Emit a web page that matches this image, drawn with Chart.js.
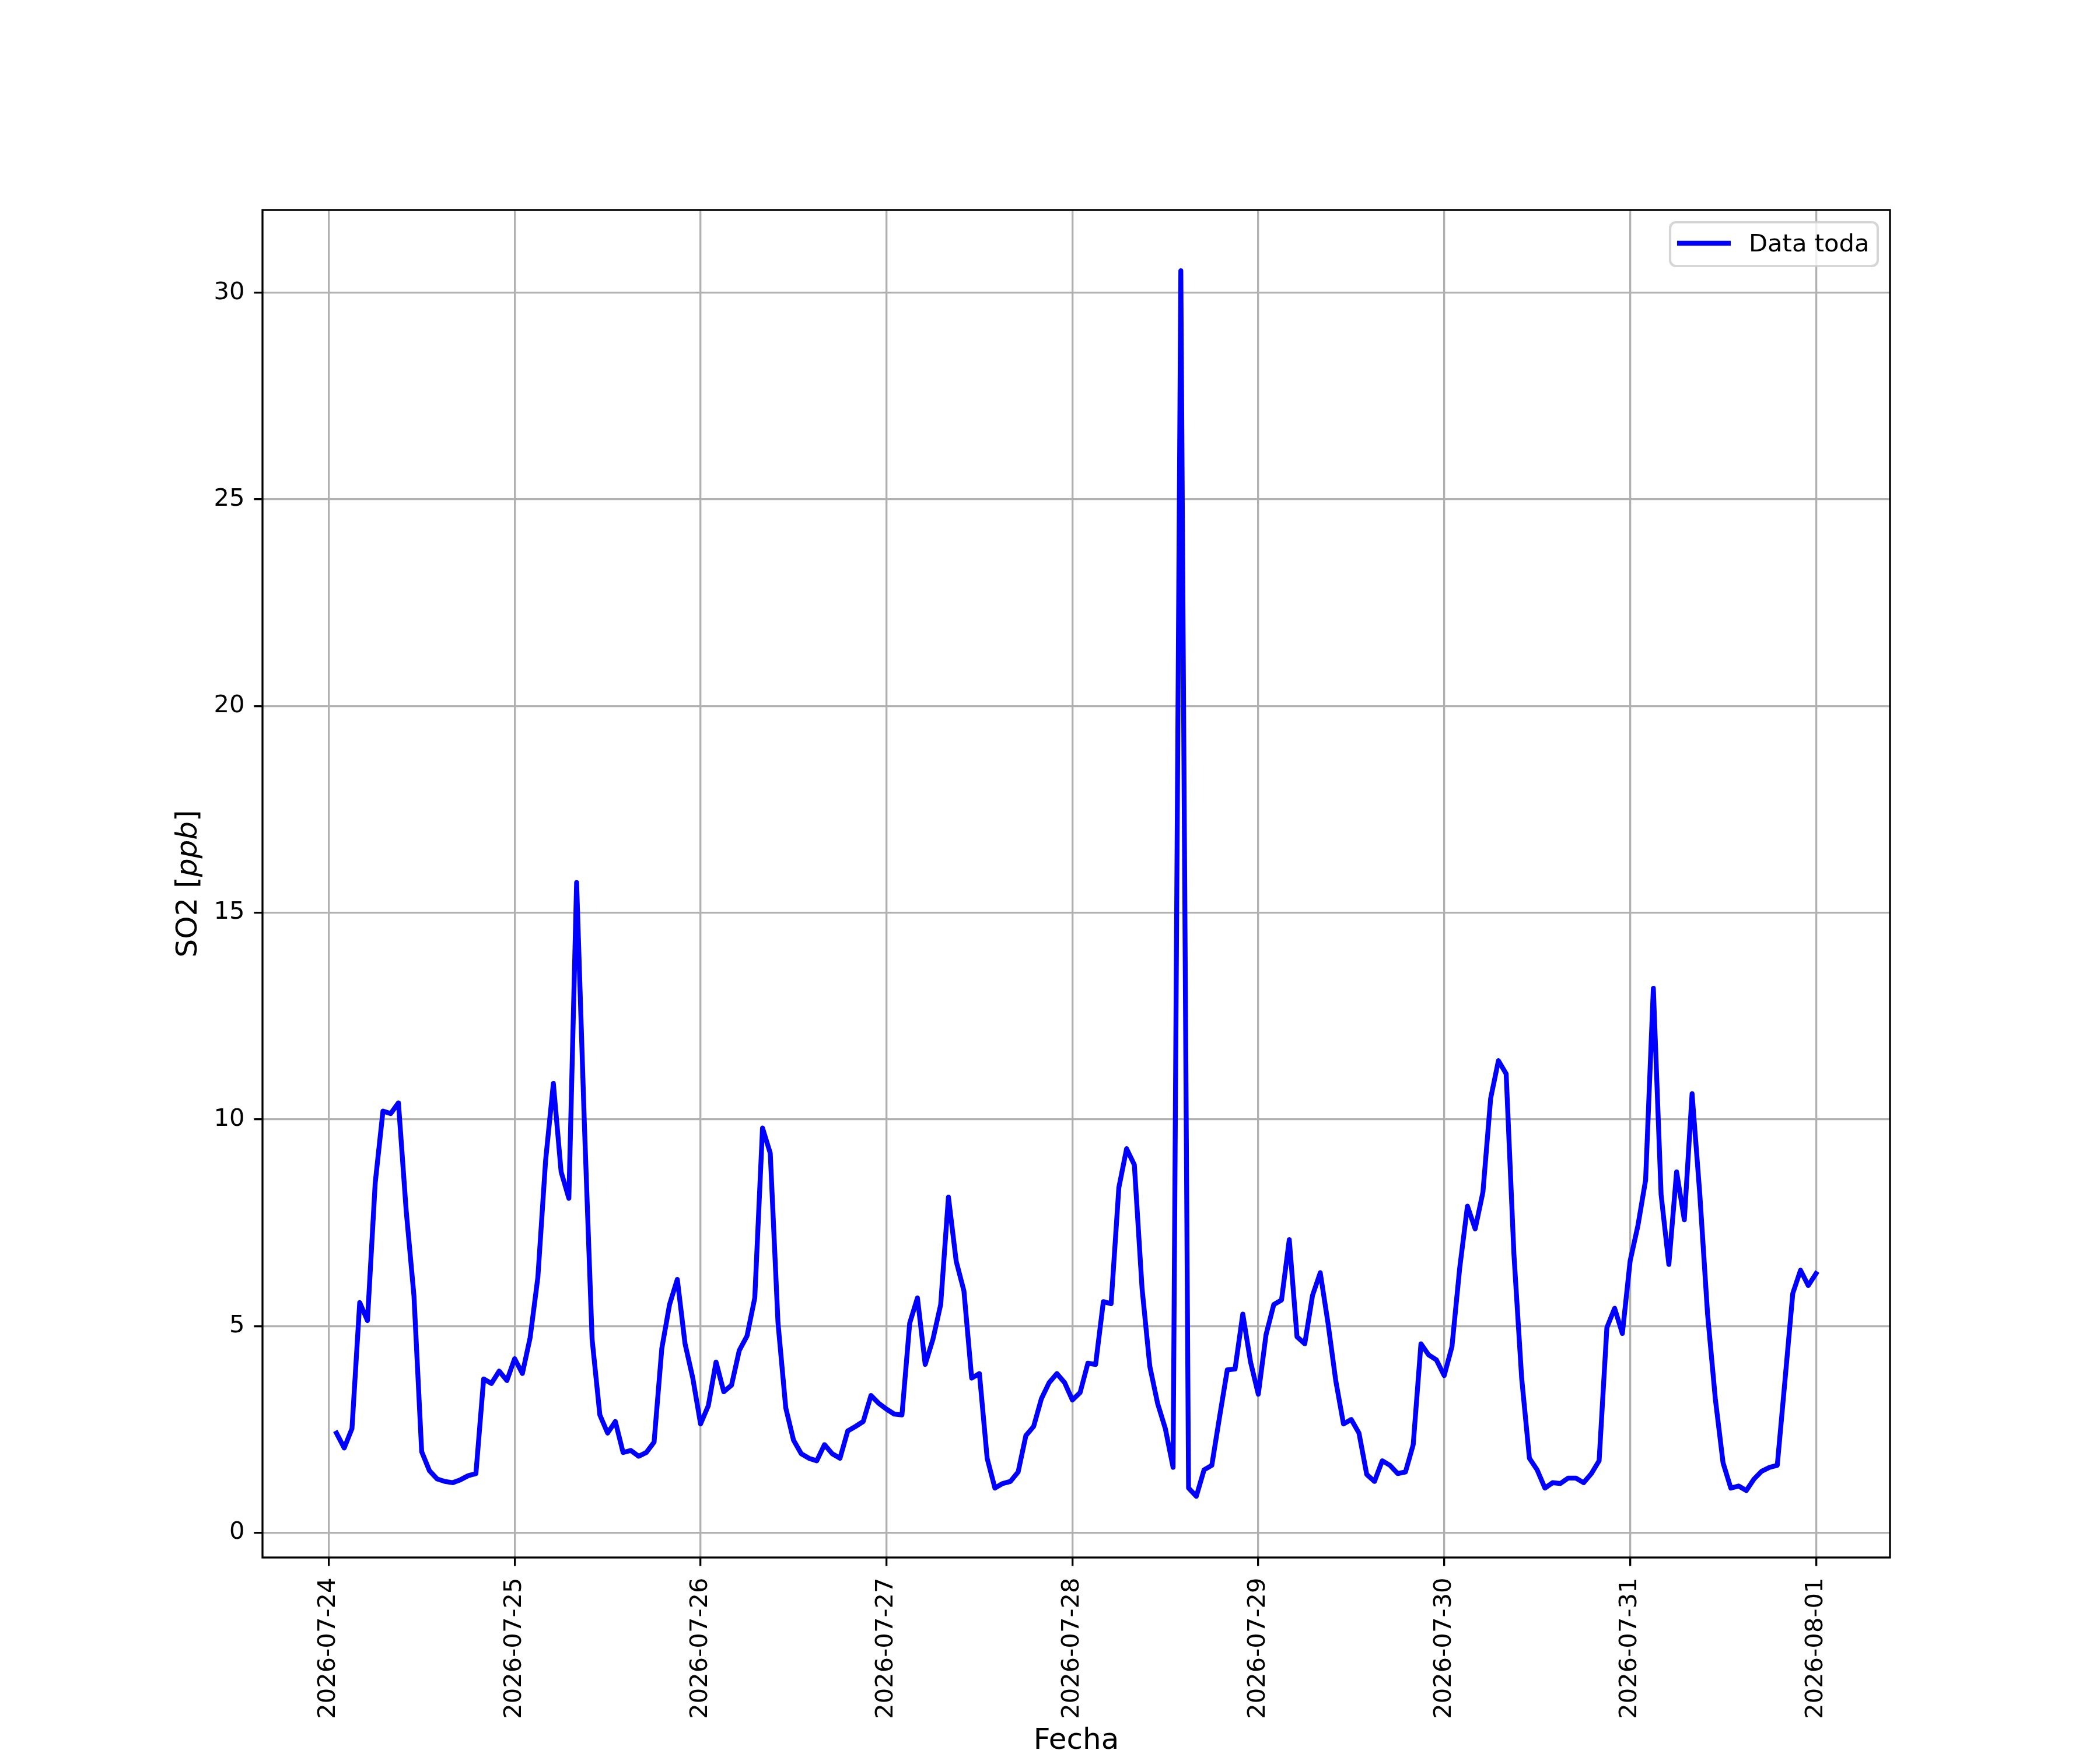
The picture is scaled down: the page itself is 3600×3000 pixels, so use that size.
<!DOCTYPE html>
<html>
<head>
<meta charset="utf-8">
<script src="https://cdn.jsdelivr.net/npm/chart.js@4.4.1/dist/chart.umd.min.js"></script>
<style>
  html, body { margin: 0; padding: 0; background: #fff; }
  canvas { display: block; }
</style>
</head>
<body>
<canvas id="myChart" width="3600" height="3000" style="width:3600px;height:3000px"></canvas>
<script>
// tick labels (one per day, at midnight)
const dayLabels = ["2026-07-24", "2026-07-25", "2026-07-26", "2026-07-27", "2026-07-28",
    "2026-07-29", "2026-07-30", "2026-07-31", "2026-08-01"];
const tickHours = [0, 24, 48, 72, 96, 120, 144, 168, 192]; // hours since 2026-07-24 00:00
const yTicks = [0, 5, 10, 15, 20, 25, 30];

// hourly SO2 [ppb]; first day starts at 01:00
const so2Jul24 = [2.41, 2.05, 2.52, 5.57, 5.13, 8.46, 10.2, 10.14, 10.4, 7.79, 5.74, 1.96,
    1.5, 1.3, 1.24, 1.21, 1.28, 1.38, 1.43, 3.72, 3.61, 3.91, 3.68];
const so2Jul25 = [4.21, 3.85, 4.72, 6.18, 9.01, 10.87, 8.73, 8.09, 15.73, 9.9, 4.68, 2.85,
    2.41, 2.69, 1.94, 1.99, 1.85, 1.94, 2.19, 4.46, 5.52, 6.13, 4.57, 3.74];
const so2Jul26 = [2.63, 3.07, 4.13, 3.41, 3.57, 4.41, 4.76, 5.68, 9.79, 9.18, 5.07, 3.02,
    2.24, 1.91, 1.8, 1.74, 2.13, 1.91, 1.8, 2.46, 2.57, 2.69, 3.32, 3.13];
const so2Jul27 = [2.99, 2.87, 2.85, 5.07, 5.68, 4.07, 4.68, 5.52, 8.12, 6.57, 5.85, 3.74,
    3.85, 1.8, 1.08, 1.19, 1.24, 1.47, 2.35, 2.57, 3.24, 3.63, 3.85, 3.63];
const so2Jul28 = [3.21, 3.39, 4.1, 4.07, 5.59, 5.54, 8.35, 9.29, 8.9, 5.9, 4.02, 3.13,
    2.52, 1.58, 30.53, 1.08, 0.88, 1.52, 1.63, 2.8, 3.94, 3.96, 5.29, 4.13];
const so2Jul29 = [3.35, 4.79, 5.52, 5.63, 7.09, 4.74, 4.57, 5.74, 6.29, 5.07, 3.68, 2.63,
    2.74, 2.41, 1.41, 1.24, 1.74, 1.63, 1.43, 1.47, 2.13, 4.57, 4.3, 4.18];
const so2Jul30 = [3.8, 4.5, 6.4, 7.9, 7.35, 8.24, 10.51, 11.42, 11.1, 6.74, 3.74, 1.8,
    1.52, 1.08, 1.21, 1.19, 1.32, 1.32, 1.21, 1.43, 1.74, 4.96, 5.43, 4.82];
const so2Jul31 = [6.57, 7.42, 8.53, 13.17, 8.18, 6.49, 8.73, 7.57, 10.62, 8.18, 5.29, 3.24,
    1.69, 1.08, 1.13, 1.02, 1.3, 1.49, 1.58, 1.63, 3.7, 5.79, 6.35, 5.98];
const so2Aug01 = [6.27];

const so2 = [].concat(so2Jul24, so2Jul25, so2Jul26, so2Jul27, so2Jul28,
    so2Jul29, so2Jul30, so2Jul31, so2Aug01);
const points = so2.map((v, i) => ({ x: i + 1, y: v }));

const FONT = "'DejaVu Sans', 'Liberation Sans', sans-serif";
const PT = 300 / 72; // figure is 12x10 in at 300 dpi

// top/right spines, legend and mathtext y label
const extras = {
    id: "extras",
    afterDatasetsDraw(chart) {
        const { ctx, chartArea: a } = chart;
        ctx.save();
        ctx.strokeStyle = "#000";
        ctx.lineWidth = 0.8 * PT;
        ctx.lineJoin = "miter";
        ctx.strokeRect(a.left, a.top, a.right - a.left, a.bottom - a.top);

        // legend
        const ds = chart.data.datasets[0];
        const bx = 2863, by = 381, bw = 356, bh = 75, r = 10;
        ctx.beginPath();
        ctx.roundRect(bx, by, bw, bh, r);
        ctx.fillStyle = "rgba(255,255,255,0.8)";
        ctx.fill();
        ctx.strokeStyle = "rgba(204,204,204,0.8)";
        ctx.lineWidth = 1.0 * PT;
        ctx.stroke();
        ctx.beginPath();
        ctx.moveTo(2875, 417);
        ctx.lineTo(2967, 417);
        ctx.strokeStyle = ds.borderColor;
        ctx.lineWidth = ds.borderWidth;
        ctx.lineCap = "butt";
        ctx.stroke();
        ctx.fillStyle = "#000";
        ctx.font = `${10 * PT}px ${FONT}`;
        ctx.textBaseline = "alphabetic";
        ctx.textAlign = "left";
        ctx.fillText(ds.label, 2998, 431);

        // y label: SO2 [$ppb$]
        const parts = [
            ["SO2 [", `${12 * PT}px ${FONT}`],
            ["ppb", `italic ${12 * PT}px ${FONT}`],
            ["]", `${12 * PT}px ${FONT}`],
        ];
        let total = 0;
        parts.forEach(p => { ctx.font = p[1]; total += ctx.measureText(p[0]).width; });
        ctx.translate(324, (a.top + a.bottom) / 2);
        ctx.rotate(-Math.PI / 2);
        ctx.textBaseline = "middle";
        let x = -total / 2;
        parts.forEach(p => {
            ctx.font = p[1];
            ctx.fillText(p[0], x, 0);
            x += ctx.measureText(p[0]).width;
        });
        ctx.restore();
    },
};

new Chart(document.getElementById("myChart"), {
    type: "line",
    data: {
        datasets: [
            {
                label: "Data toda",
                data: points,
                borderColor: "#0000ff",
                borderWidth: 2 * PT,
                pointRadius: 0,
                tension: 0,
                borderJoinStyle: "round",
                borderCapStyle: "square",
                fill: false,
            },
        ],
    },
    options: {
        responsive: false,
        devicePixelRatio: 1,
        animation: false,
        layout: { padding: { top: 360, right: 360, left: 0, bottom: 0 } },
        scales: {
            x: {
                type: "linear",
                min: -8.55,
                max: 201.55,
                afterFit: (s) => { s.height = 330; },
                afterBuildTicks: (s) => { s.ticks = tickHours.map(v => ({ value: v })); },
                border: { display: false },
                grid: {
                    color: "#b0b0b0",
                    lineWidth: 0.8 * PT,
                    drawTicks: true,
                    tickLength: 3.5 * PT,
                    tickColor: "#000",
                    tickWidth: 0.8 * PT,
                },
                ticks: {
                    autoSkip: false,
                    minRotation: 90,
                    maxRotation: 90,
                    padding: 20,
                    color: "#000",
                    font: { family: FONT, size: 10 * PT },
                    callback: (v) => dayLabels[tickHours.indexOf(v)],
                },
                title: {
                    display: true,
                    text: "Fecha",
                    color: "#000",
                    padding: { top: 0, bottom: -15 },
                    font: { family: FONT, size: 12 * PT },
                },
            },
            y: {
                min: -0.6,
                max: 32.0,
                afterFit: (s) => { s.width = 450; },
                afterBuildTicks: (s) => { s.ticks = yTicks.map(v => ({ value: v })); },
                border: { display: false },
                grid: {
                    color: "#b0b0b0",
                    lineWidth: 0.8 * PT,
                    drawTicks: true,
                    tickLength: 3.5 * PT,
                    tickColor: "#000",
                    tickWidth: 0.8 * PT,
                },
                ticks: {
                    padding: 16,
                    color: "#000",
                    font: { family: FONT, size: 10 * PT },
                    callback: (v) => String(v),
                },
            },
        },
        plugins: {
            legend: { display: false },
            tooltip: { enabled: false },
        },
    },
    plugins: [extras],
});
</script>
</body>
</html>
